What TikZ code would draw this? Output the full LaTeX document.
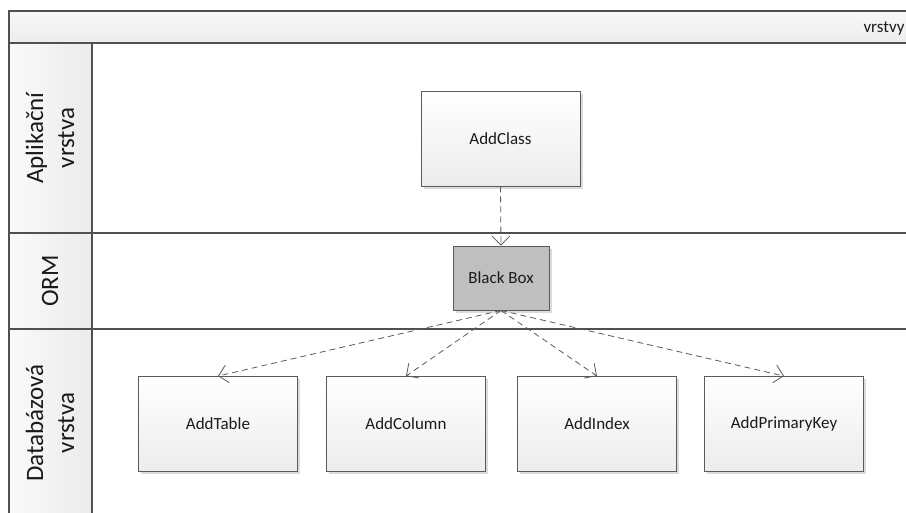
\documentclass[tikz,border=0pt]{standalone}
\usepackage{fontspec}
\setmainfont{Carlito}
\usetikzlibrary{arrows.meta,shadows}
\definecolor{framegray}{HTML}{505050}
\definecolor{boxline}{HTML}{5A5A5A}
\definecolor{boxlow}{HTML}{ECECEC}
\definecolor{headlow}{HTML}{EBEBEB}
\definecolor{blackbox}{HTML}{BFBFBF}
\definecolor{inkcol}{HTML}{1A1A1A}
\tikzset{
  frameline/.style={draw=framegray, line width=1.3pt},
  classbox/.style={draw=boxline, line width=0.9pt, top color=white, bottom color=boxlow,
    minimum width=159pt, minimum height=95pt, text=inkcol,
    font=\fontsize{17}{20}\selectfont,
    drop shadow={shadow xshift=2.5pt, shadow yshift=-2.5pt, fill=black!14, opacity=1}},
  greybox/.style={classbox, fill=blackbox, top color=blackbox, bottom color=blackbox,
    minimum width=96pt, minimum height=64pt},
  lanelabel/.style={rotate=90, align=center, text=inkcol,
    font=\fontsize{25}{31}\selectfont},
  depends/.style={draw=boxline, line width=0.8pt, dash pattern=on 6pt off 4pt,
    -{Straight Barb[length=9pt,width=18pt,line width=0.8pt]}}
}
\begin{document}
\begin{tikzpicture}[x=1pt,y=-1pt]
\useasboundingbox (0,0) rectangle (906,512);
\begin{scope}
  \clip (0,0) rectangle (906,512);
  % title bar of the pool
  \shade[top color=white!97!black, bottom color=white!93!black] (9,11) rectangle (930,43);
  % lane header cells
  \shade[left color=white!98!black, right color=headlow] (9,43) rectangle (92,540);
  % frame and lane separators
  \draw[frameline] (9,540) -- (9,11) -- (930,11);
  \draw[frameline] (9,43) -- (930,43);
  \draw[frameline] (92,43) -- (92,540);
  \draw[frameline] (9,233) -- (930,233);
  \draw[frameline] (9,329) -- (930,329);
  \node[anchor=east, text=inkcol, font=\fontsize{17}{20}\selectfont] (pool) at (908,28) {vrstvy};
\end{scope}

% lane titles
\node[lanelabel] (lapp) at (50,138) {Aplikační\\vrstva};
\node[lanelabel] (lorm) at (50,281) {ORM};
\node[lanelabel] (ldb) at (50,423) {Databázová\\vrstva};

% elements
\node[classbox] (addclass) at (500.5,138.5) {AddClass};
\node[greybox] (bb) at (501,278) {Black Box};
\node[classbox] (addtable) at (218,424) {AddTable};
\node[classbox] (addcolumn) at (406,424) {AddColumn};
\node[classbox] (addindex) at (597,424) {AddIndex};
\node[classbox] (addpk) at (784,424) {AddPrimaryKey};

% dependencies
\draw[depends] (addclass.south) -- (bb.north);
\draw[depends] (bb.south) -- (addtable.north);
\draw[depends] (bb.south) -- (addcolumn.north);
\draw[depends] (bb.south) -- (addindex.north);
\draw[depends] (bb.south) -- (addpk.north);
\end{tikzpicture}
\end{document}
